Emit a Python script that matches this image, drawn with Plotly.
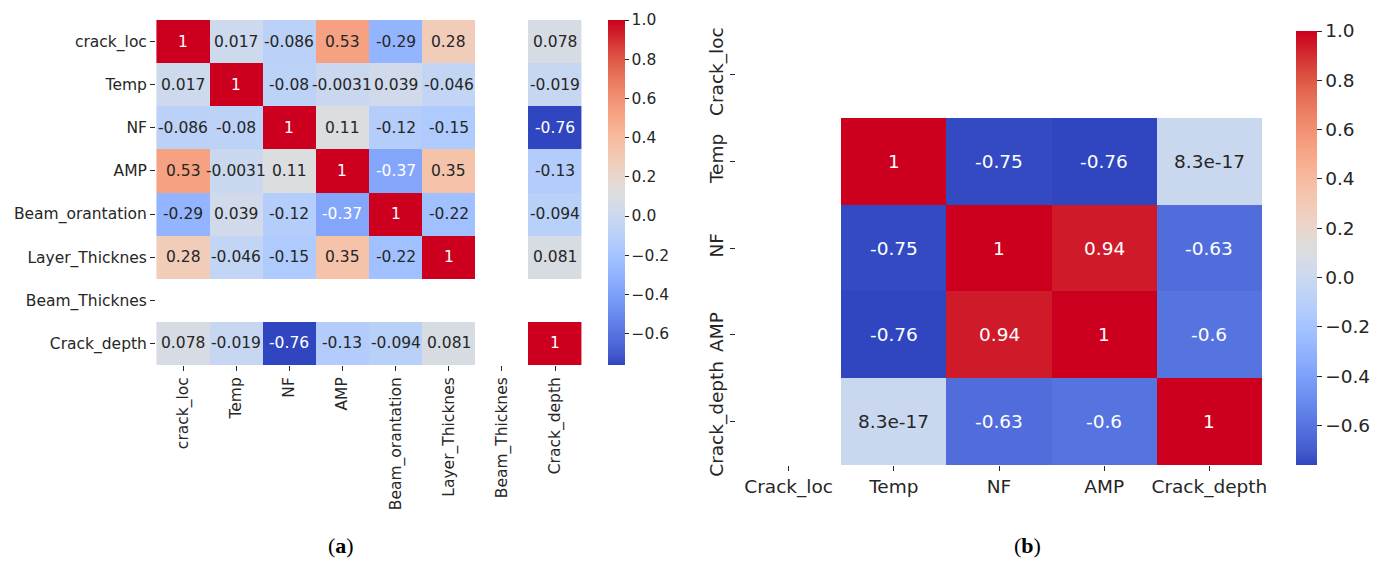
import plotly.graph_objects as go

# ---------------- data ----------------
labels_a = ["crack_loc", "Temp", "NF", "AMP", "Beam_orantation",
            "Layer_Thicknes", "Beam_Thicknes", "Crack_depth"]
N = None
corr_a = [
    [1, 0.017, -0.086, 0.53, -0.29, 0.28, N, 0.078],
    [0.017, 1, -0.08, -0.0031, 0.039, -0.046, N, -0.019],
    [-0.086, -0.08, 1, 0.11, -0.12, -0.15, N, -0.76],
    [0.53, -0.0031, 0.11, 1, -0.37, 0.35, N, -0.13],
    [-0.29, 0.039, -0.12, -0.37, 1, -0.22, N, -0.094],
    [0.28, -0.046, -0.15, 0.35, -0.22, 1, N, 0.081],
    [N, N, N, N, N, N, N, N],
    [0.078, -0.019, -0.76, -0.13, -0.094, 0.081, N, 1],
]

labels_b = ["Crack_loc", "Temp", "NF", "AMP", "Crack_depth"]
corr_b = [
    [N, N, N, N, N],
    [N, 1, -0.75, -0.76, 8.3e-17],
    [N, -0.75, 1, 0.94, -0.63],
    [N, -0.76, 0.94, 1, -0.6],
    [N, 8.3e-17, -0.63, -0.6, 1],
]

zmin, zmax = -0.76, 1.0
cbar_ticks = [-0.6, -0.4, -0.2, 0.0, 0.2, 0.4, 0.6, 0.8, 1.0]

# coolwarm (Moreland) table, slightly saturated at the ends
cw = [
    (59, 76, 192), (68, 90, 204), (77, 104, 215), (87, 117, 225), (98, 130, 234),
    (108, 142, 241), (119, 154, 247), (130, 165, 251), (141, 176, 254), (152, 185, 255),
    (163, 194, 255), (174, 201, 253), (184, 208, 249), (194, 213, 244), (204, 217, 238),
    (213, 219, 230), (221, 221, 221), (229, 216, 209), (236, 211, 197), (241, 204, 184),
    (245, 196, 172), (247, 187, 160), (247, 177, 148), (247, 166, 135), (244, 154, 123),
    (241, 141, 111), (236, 127, 99), (229, 112, 88), (224, 94, 74), (218, 74, 62),
    (212, 50, 52), (206, 24, 40), (204, 0, 30),
]
cw[0] = (48, 70, 192)
n = len(cw) - 1
colorscale = [[i / n, "rgb(%d,%d,%d)" % c] for i, c in enumerate(cw)]


def color_at(v):
    t = (v - zmin) / (zmax - zmin)
    t = min(1.0, max(0.0, t))
    k = min(n - 1, int(t * n))
    f = t * n - k
    a, b = cw[k], cw[k + 1]
    return [a[i] + (b[i] - a[i]) * f for i in range(3)]


def rel_lum(rgb):
    out = []
    for c in rgb:
        c = c / 255.0
        out.append(c / 12.92 if c <= 0.03928 else ((c + 0.055) / 1.055) ** 2.4)
    return 0.2126 * out[0] + 0.7152 * out[1] + 0.0722 * out[2]


DARK = "#262626"
FONT = "DejaVu Sans"
W, H = 1390, 561

fig = go.Figure()

fs_a, fs_b = 15.5, 18.5

fig.add_trace(go.Heatmap(
    z=corr_a, x=labels_a, y=labels_a, xaxis="x", yaxis="y",
    zmin=zmin, zmax=zmax, colorscale=colorscale, hoverinfo="skip",
    colorbar=dict(x=608 / W, xanchor="left", y=1 - 20 / H, yanchor="top",
                  len=345 / H, lenmode="fraction", thickness=17, thicknessmode="pixels",
                  outlinewidth=0, ticks="outside", ticklen=4, tickcolor=DARK,
                  tickvals=cbar_ticks, tickformat=".1f", xpad=0, ypad=0,
                  tickfont=dict(family=FONT, size=fs_a, color=DARK)),
))
fig.add_trace(go.Heatmap(
    z=corr_b, x=labels_b, y=labels_b, xaxis="x2", yaxis="y2",
    zmin=zmin, zmax=zmax, colorscale=colorscale, hoverinfo="skip",
    colorbar=dict(x=1296 / W, xanchor="left", y=1 - 31 / H, yanchor="top",
                  len=434 / H, lenmode="fraction", thickness=21, thicknessmode="pixels",
                  outlinewidth=0, ticks="outside", ticklen=5, tickcolor=DARK,
                  tickvals=cbar_ticks, tickformat=".1f", xpad=0, ypad=0,
                  tickfont=dict(family=FONT, size=fs_b, color=DARK)),
))

annotations = []
for labels, corr, xr, yr, fs in [(labels_a, corr_a, "x", "y", fs_a),
                                 (labels_b, corr_b, "x2", "y2", fs_b)]:
    for i, row in enumerate(corr):
        for j, v in enumerate(row):
            if v is None:
                continue
            col = DARK if rel_lum(color_at(v)) > 0.408 else "white"
            annotations.append(dict(
                x=labels[j], y=labels[i], xref=xr, yref=yr, text=format(v, ".2g"),
                showarrow=False, font=dict(family=FONT, size=fs, color=col)))

for lab, xc in [("a", 341), ("b", 1027)]:
    annotations.append(dict(x=xc / W, y=1 - 545 / H, xref="paper", yref="paper",
                            xanchor="center", yanchor="middle",
                            text="(<b>%s</b>)" % lab, showarrow=False,
                            font=dict(family="Liberation Serif", size=22, color="black")))

axis_common = dict(type="category", showgrid=False, zeroline=False, showline=False,
                   ticks="outside", ticklen=5, tickcolor=DARK, tickwidth=1,
                   automargin=False)

fig.update_layout(
    width=W, height=H, margin=dict(l=0, r=0, t=0, b=0, autoexpand=False),
    paper_bgcolor="white", plot_bgcolor="white", showlegend=False,
    xaxis=dict(domain=[156 / W, 582 / W], anchor="y", tickangle=-90,
               categoryorder="array", categoryarray=labels_a,
               tickfont=dict(family=FONT, size=fs_a, color=DARK), **axis_common),
    yaxis=dict(domain=[1 - 365 / H, 1 - 20 / H], anchor="x", autorange="reversed",
               categoryorder="array", categoryarray=labels_a,
               tickfont=dict(family=FONT, size=fs_a, color=DARK), **axis_common),
    xaxis2=dict(domain=[736 / W, 1262 / W], anchor="y2", tickangle=0,
                categoryorder="array", categoryarray=labels_b,
                tickfont=dict(family=FONT, size=fs_b, color=DARK), **axis_common),
    yaxis2=dict(domain=[1 - 465 / H, 1 - 31 / H], anchor="x2", autorange="reversed",
                tickangle=-90, categoryorder="array", categoryarray=labels_b,
                tickfont=dict(family=FONT, size=fs_b, color=DARK), **axis_common),
    annotations=annotations,
)

fig.write_html("out.html", config={"displayModeBar": False},
               post_script="document.body.style.margin='0';document.body.style.overflow='hidden';")
